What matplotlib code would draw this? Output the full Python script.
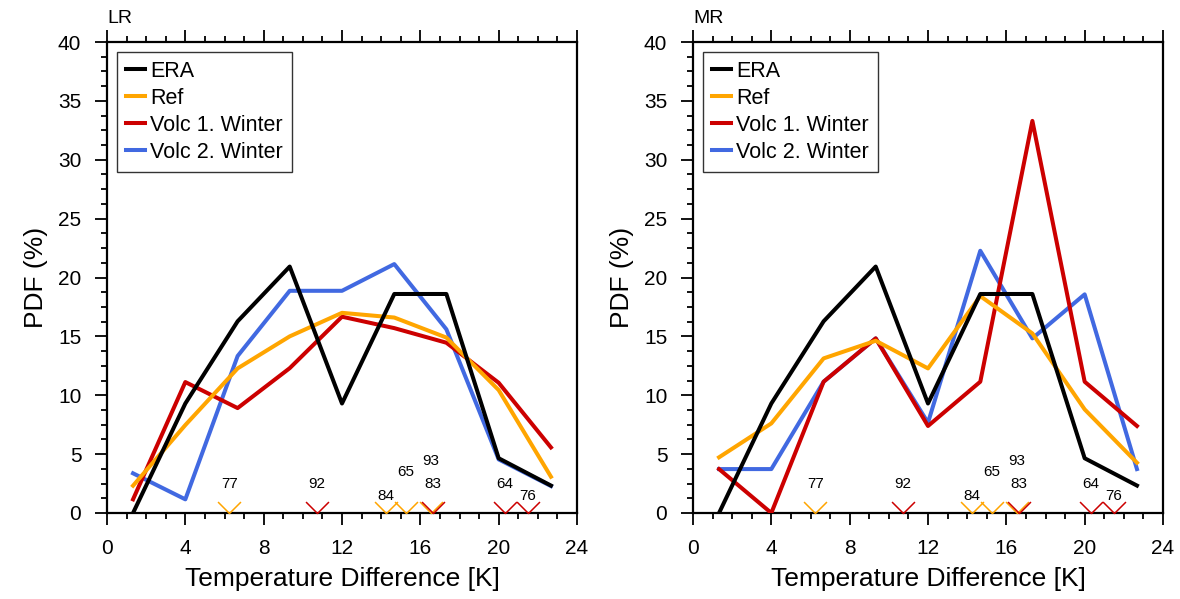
import numpy as np
import matplotlib.pyplot as plt
from matplotlib.ticker import MultipleLocator
from matplotlib.lines import Line2D

plt.rcParams['font.family'] = ['Liberation Sans', 'DejaVu Sans']

# bin centres of the temperature difference histogram [K]
bin_centres = [1.33, 4.0, 6.67, 9.33, 12.0, 14.67, 17.33, 20.0, 22.67]

# PDF values (%) per bin
era = [0.0, 9.30, 16.28, 20.93, 9.30, 18.60, 18.60, 4.65, 2.33]

lr_ref = [2.32, 7.47, 12.28, 15.0, 17.0, 16.6, 14.9, 10.44, 3.08]
lr_volc1 = [1.16, 11.12, 8.91, 12.3, 16.67, 15.7, 14.46, 11.06, 5.57]
lr_volc2 = [3.37, 1.16, 13.33, 18.87, 18.87, 21.14, 15.6, 4.55, 2.29]

mr_ref = [4.73, 7.61, 13.13, 14.63, 12.28, 18.42, 15.25, 8.8, 4.27]
mr_volc1 = [3.73, 0.0, 11.15, 14.83, 7.39, 11.15, 33.3, 11.15, 7.39]
mr_volc2 = [3.73, 3.73, 11.15, 14.83, 7.67, 22.27, 14.83, 18.57, 3.73]

# individual winters marked along the x axis
event_years = ['77', '92', '84', '65', '93', '83', '64', '76']
event_temp = [6.25, 10.71, 14.25, 15.27, 16.55, 16.66, 20.32, 21.48]
event_kind = ['ref', 'volc', 'ref', 'ref', 'ref', 'volc', 'volc', 'volc']
event_level = [1, 1, 0, 2, 3, 1, 1, 0]  # stacking row of the year label

c_era = 'black'
c_ref = '#FFA500'
c_v1 = '#CC0000'
c_v2 = '#4169E1'
kind_colour = {'ref': c_ref, 'volc': c_v1}

vee = [(-1, 1), (0, 0), (1, 1)]

fig = plt.figure(figsize=(11.8, 5.99), dpi=100)
ax_l = fig.add_axes([107/1180, 86/599, 470/1180, 471/599])
ax_r = fig.add_axes([693/1180, 86/599, 470/1180, 471/599])

panels = [(ax_l, 'LR', lr_ref, lr_volc1, lr_volc2),
          (ax_r, 'MR', mr_ref, mr_volc1, mr_volc2)]

for ax, name, ref, v1, v2 in panels:
    lw = 2.9
    ax.plot(bin_centres, v2, color=c_v2, lw=lw, zorder=3)
    ax.plot(bin_centres, v1, color=c_v1, lw=lw, zorder=4)
    ax.plot(bin_centres, ref, color=c_ref, lw=lw, zorder=5)
    ax.plot(bin_centres, era, color=c_era, lw=lw, zorder=6)

    for yr, t, kind, lev in zip(event_years, event_temp, event_kind, event_level):
        ax.plot([t], [0], marker=vee, ms=16.5, mfc='none', mec=kind_colour[kind],
                mew=1.1, ls='none', clip_on=False, zorder=7)
        ax.text(t, 1.45 + lev * 1.0, yr, fontsize=11, ha='center', va='center', zorder=8)

    ax.set_xlim(0, 24)
    ax.set_ylim(0, 40)
    ax.xaxis.set_major_locator(MultipleLocator(4))
    ax.xaxis.set_minor_locator(MultipleLocator(1))
    ax.yaxis.set_major_locator(MultipleLocator(5))
    ax.yaxis.set_minor_locator(MultipleLocator(1.25))
    ax.tick_params(which='both', direction='out', top=True, right=False,
                   labelsize=15, width=1.3, pad=10)
    ax.tick_params(which='major', length=8.5)
    ax.tick_params(which='minor', length=4.3)
    for sp in ax.spines.values():
        sp.set_linewidth(1.6)

    ax.set_xlabel('Temperature Difference [K]', fontsize=19, labelpad=7)
    ax.set_ylabel('PDF (%)', fontsize=19, labelpad=7)
    ax.text(0, 1.032, name, transform=ax.transAxes, fontsize=14, ha='left', va='bottom')

    handles = [Line2D([], [], color=c, lw=lw) for c in (c_era, c_ref, c_v1, c_v2)]
    leg = ax.legend(handles, ['ERA', 'Ref', 'Volc 1. Winter', 'Volc 2. Winter'],
                    loc='upper left', fontsize=15.5, frameon=True, fancybox=False,
                    handlelength=0.9, handletextpad=0.22, labelspacing=0.28,
                    borderpad=0.42, borderaxespad=0.45)
    leg.get_frame().set_edgecolor('black')
    leg.get_frame().set_linewidth(1.0)

fig.savefig('out.png', dpi=100)
